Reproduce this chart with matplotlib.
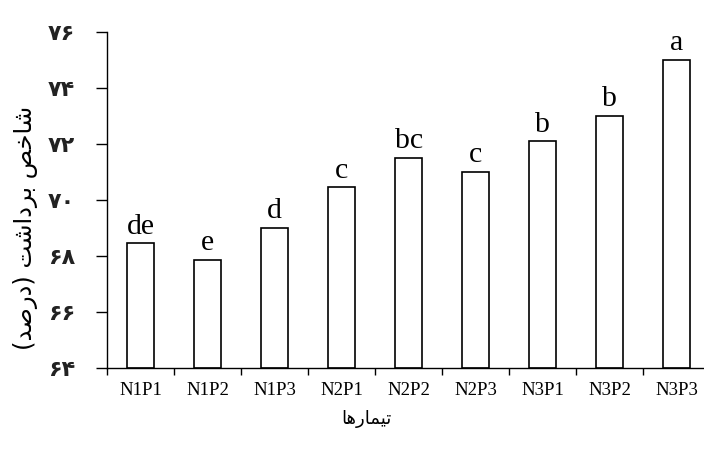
import matplotlib
matplotlib.use("Agg")
import matplotlib.pyplot as plt

treatments = ["N1P1", "N1P2", "N1P3", "N2P1", "N2P2", "N2P3", "N3P1", "N3P2", "N3P3"]
harvest_index = [68.45, 67.85, 69.0, 70.45, 71.5, 71.0, 72.1, 73.0, 75.0]
letters = ["de", "e", "d", "c", "bc", "c", "b", "b", "a"]
yticks = [64, 66, 68, 70, 72, 74, 76]
ylabel_txt = "شاخص برداشت (درصد)"
xlabel_txt = "تیمارها"

# matplotlib has no arabic shaping, so pick presentation forms by hand
FORMS = {
    "ا": ("\uFE8D", "\uFE8E", None, None),
    "ب": ("\uFE8F", "\uFE90", "\uFE91", "\uFE92"),
    "ت": ("\uFE95", "\uFE96", "\uFE97", "\uFE98"),
    "خ": ("\uFEA5", "\uFEA6", "\uFEA7", "\uFEA8"),
    "د": ("\uFEA9", "\uFEAA", None, None),
    "ر": ("\uFEAD", "\uFEAE", None, None),
    "ش": ("\uFEB5", "\uFEB6", "\uFEB7", "\uFEB8"),
    "ص": ("\uFEB9", "\uFEBA", "\uFEBB", "\uFEBC"),
    "م": ("\uFEE1", "\uFEE2", "\uFEE3", "\uFEE4"),
    "ه": ("\uFEE9", "\uFEEA", "\uFEEB", "\uFEEC"),
    "ی": ("\uFBFC", "\uFBFD", "\uFBFE", "\uFBFF"),
}
MIRROR = {"(": ")", ")": "("}


def shape(s):
    out = []
    for i, ch in enumerate(s):
        if ch not in FORMS:
            out.append(MIRROR.get(ch, ch))
            continue
        prev = s[i - 1] if i > 0 else None
        nxt = s[i + 1] if i + 1 < len(s) else None
        join_prev = prev in FORMS and FORMS[prev][2] is not None
        join_next = FORMS[ch][2] is not None and nxt in FORMS
        iso, fin, ini, med = FORMS[ch]
        if join_prev and join_next:
            out.append(med)
        elif join_prev:
            out.append(fin)
        elif join_next:
            out.append(ini)
        else:
            out.append(iso)
    return "".join(reversed(out))


def fa_digits(n):
    return str(n).translate(str.maketrans("0123456789", "۰۱۲۳۴۵۶۷۸۹"))


plt.rcParams["font.family"] = ["Liberation Serif", "DejaVu Sans"]

fig = plt.figure(figsize=(7.04, 4.53), dpi=100)
ax = fig.add_axes([0.152, 0.1876, 0.857, 0.7417])

x = range(len(treatments))
bars = ax.bar(x, [v - 64 for v in harvest_index], bottom=64, width=0.4,
              color="white", edgecolor="black", linewidth=1.2)
for xi, v, lab in zip(x, harvest_index, letters):
    ax.annotate(lab, (xi, v), xytext=(0, 7), textcoords="offset points",
                ha="center", va="baseline", fontsize=21.5)

ax.set_xlim(-0.5, 8.5)
ax.set_ylim(64, 76)
ax.set_yticks(yticks)
ax.set_yticklabels([fa_digits(t) for t in yticks], family="DejaVu Sans",
                   fontsize=16, fontweight="bold", color="#222222")
ax.set_xticks([i + 0.5 for i in range(-1, 9)], minor=False)
ax.set_xticklabels([])
ax.set_xticks(list(x), minor=True)
ax.set_xticklabels(treatments, minor=True, fontsize=13.5)
ax.tick_params(axis="x", which="minor", length=0, pad=10)
ax.tick_params(axis="x", which="major", length=5, width=1, direction="out")
ax.tick_params(axis="y", length=8, width=1, direction="out", pad=15)
for s in ["top", "right"]:
    ax.spines[s].set_visible(False)
for s in ["left", "bottom"]:
    ax.spines[s].set_linewidth(1)

fig.text(0.036, 0.497, shape(ylabel_txt), rotation=90, ha="center", va="center",
         family="DejaVu Sans", fontsize=17.5)
fig.text(0.521, 0.076, shape(xlabel_txt), ha="center", va="center",
         family="DejaVu Sans", fontsize=13)

fig.savefig("out.png", dpi=100)
